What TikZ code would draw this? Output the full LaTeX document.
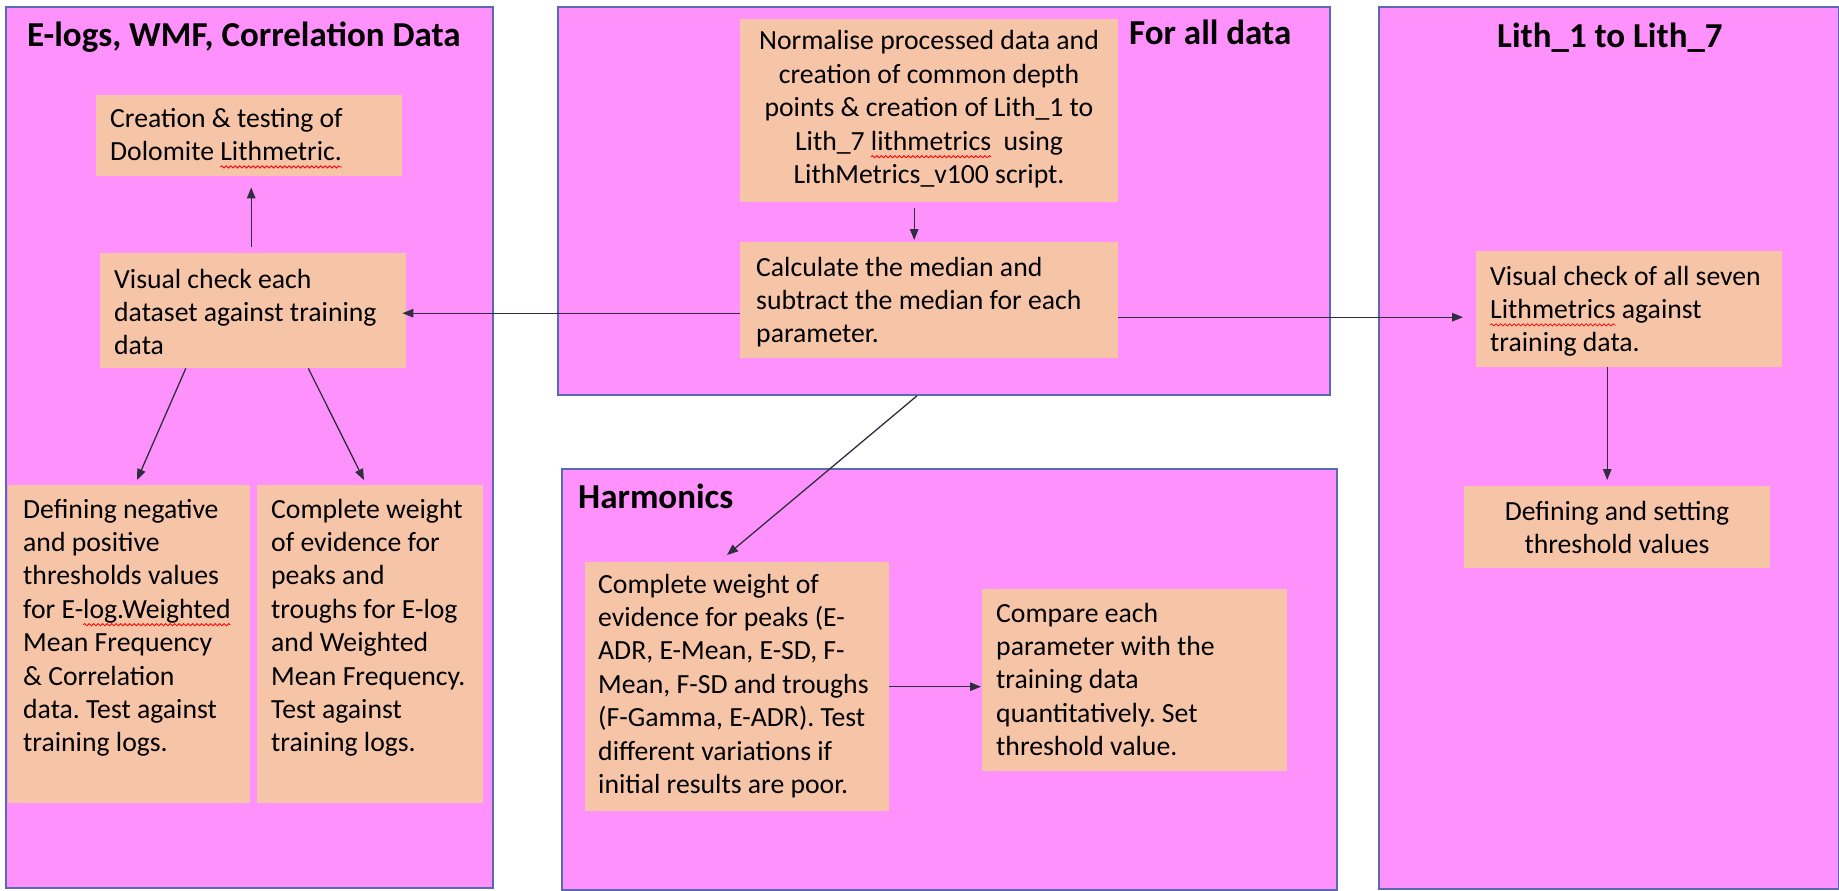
\documentclass[tikz,border=0pt]{standalone}
\usepackage{fontspec}
\setmainfont{Carlito}
\usetikzlibrary{arrows.meta,decorations.pathmorphing,calc}
\definecolor{panelfill}{HTML}{FF91FC}
\definecolor{panelline}{HTML}{5A6AB0}
\definecolor{boxfill}{HTML}{F6C5A8}
\definecolor{linkcol}{HTML}{2E2E3E}
\frenchspacing
\newsavebox\sqbox
\newlength\sqlen
\newcommand\squig[1]{\sbox\sqbox{#1}\setlength\sqlen{\wd\sqbox}\rlap{\usebox\sqbox}\tikz[overlay]\draw[red,line width=0.8pt,decorate,decoration={snake,amplitude=1.1pt,segment length=4.5pt}] (0pt,-6.5pt) -- (\sqlen,-6.5pt);\hspace{\sqlen}}
\newcommand\ltab[1]{\begin{tabular}[t]{@{}l@{}}#1\end{tabular}}
\newcommand\ctab[1]{\begin{tabular}[t]{@{}c@{}}#1\end{tabular}}
\begin{document}
\begin{tikzpicture}[x=1pt,y=-1pt,
  panel/.style={draw=panelline,line width=1.8pt,fill=panelfill,inner sep=0pt,anchor=north west},
  boxnode/.style={fill=boxfill,draw=none,inner sep=0pt,anchor=north west},
  txt/.style={font=\fontsize{27.7}{33.4}\selectfont,inner sep=0pt,anchor=base west},
  ctxt/.style={font=\fontsize{27.7}{33.4}\selectfont,inner sep=0pt,anchor=base},
  ttl/.style={font=\fontsize{35}{42}\selectfont\bfseries,inner sep=0pt,anchor=base west},
  link/.style={draw=linkcol,line width=1.3pt,-{Triangle[length=11pt,width=8.5pt]}}]
\useasboundingbox[fill=white] (0,0) rectangle (1839,891);

% panels
\node[panel,minimum width=487pt,minimum height=881pt] (pleft) at (5,6) {};
\node[panel,minimum width=772pt,minimum height=388pt] (ptop) at (557,6) {};
\node[panel,minimum width=775pt,minimum height=421pt] (pharm) at (561,468) {};
\node[panel,minimum width=460pt,minimum height=882pt] (pright) at (1378,6) {};

% titles
\node[ttl] (tleft) at (27,47) {E-logs, WMF, Correlation Data};
\node[ttl] (ttop) at (1129,45) {For all data};
\node[ttl] (tharm) at (578,508) {Harmonics};
\node[ttl] (tright) at (1497,48) {Lith\_1 to Lith\_7};

% boxes
\node[boxnode,minimum width=306pt,minimum height=81pt] (create) at (96,95) {};
\node[boxnode,minimum width=306pt,minimum height=115pt] (visL) at (100,253) {};
\node[boxnode,minimum width=242pt,minimum height=318pt] (defL) at (8,485) {};
\node[boxnode,minimum width=226pt,minimum height=318pt] (compL) at (257,485) {};
\node[boxnode,minimum width=378pt,minimum height=183pt] (norm) at (740,19) {};
\node[boxnode,minimum width=378pt,minimum height=116pt] (calc) at (740,242) {};
\node[boxnode,minimum width=304pt,minimum height=249pt] (hcomp) at (585,562) {};
\node[boxnode,minimum width=305pt,minimum height=182pt] (cmp) at (982,589) {};
\node[boxnode,minimum width=306pt,minimum height=116pt] (visR) at (1476,251) {};
\node[boxnode,minimum width=306pt,minimum height=82pt] (defR) at (1464,486) {};

% texts
\node[txt] (createT) at (110,127) {\ltab{Creation \& testing of\\Dolomite \squig{Lithmetric.}}};
\node[txt] (visLT) at (114,288) {\ltab{Visual check each\\dataset against training\\data}};
\node[txt] (defLT) at (23,518) {\ltab{Defining negative\\and positive\\thresholds values\\for E-\squig{log.Weighted}\\Mean Frequency\\\& Correlation\\data. Test against\\training logs.}};
\node[txt] (compLT) at (271,518) {\ltab{Complete weight\\of evidence for\\peaks and\\troughs for E-log\\and Weighted\\Mean Frequency.\\Test against\\training logs.}};
\node[ctxt] (normT) at (929,50) {\ctab{Normalise processed data and\\creation of common depth\\points \& creation of Lith\_1 to\\Lith\_7 \squig{lithmetrics}\ \ using\\LithMetrics\_v100 script.}};
\node[txt] (calcT) at (756,276) {\ltab{Calculate the median and\\subtract the median for each\\parameter.}};
\node[txt] (hcompT) at (598,593) {\ltab{Complete weight of\\evidence for peaks (E-\\ADR, E-Mean, E-SD, F-\\Mean, F-SD and troughs\\(F-Gamma, E-ADR). Test\\different variations if\\initial results are poor.}};
\node[txt] (cmpT) at (996,622) {\ltab{Compare each\\parameter with the\\training data\\quantitatively. Set\\threshold value.}};
\node[txt] (visRT) at (1490,285) {\ltab{Visual check of all seven\\\squig{Lithmetrics} against\\training data.}};
\node[ctxt] (defRT) at (1617,520) {\ctab{Defining and setting\\threshold values}};

% connectors
\draw[link] ($(visL.north)+(-2,-6)$) -- ($(create.south)+(2,11)$);
\draw[link] ($(calc.west)+(0,13)$) -- ($(visL.east)+(-4,2.5)$);
\draw[link] ($(calc.east)+(0,17)$) -- ($(visR.west)+(-13,8)$);
\draw[link] ($(visL.south west)!0.28!(visL.south east)$) -- ($(defL.north west)+(129,-5)$);
\draw[link] ($(visL.south west)!0.68!(visL.south east)$) -- ($(compL.north west)+(107,-5)$);
\draw[link] ($(norm.south)+(-15,6)$) -- ($(calc.north)+(-15,-2)$);
\draw[link] ($(ptop.south west)+(360,0)$) -- ($(hcomp.north west)+(142,-7)$);
\draw[link] (hcomp.east) -- ($(hcomp.east -| cmp.west)+(-1,0)$);
\draw[link] ($(visR.south)+(-22,0)$) -- ($(defR.north)+(-10,-6)$);
\end{tikzpicture}
\end{document}
